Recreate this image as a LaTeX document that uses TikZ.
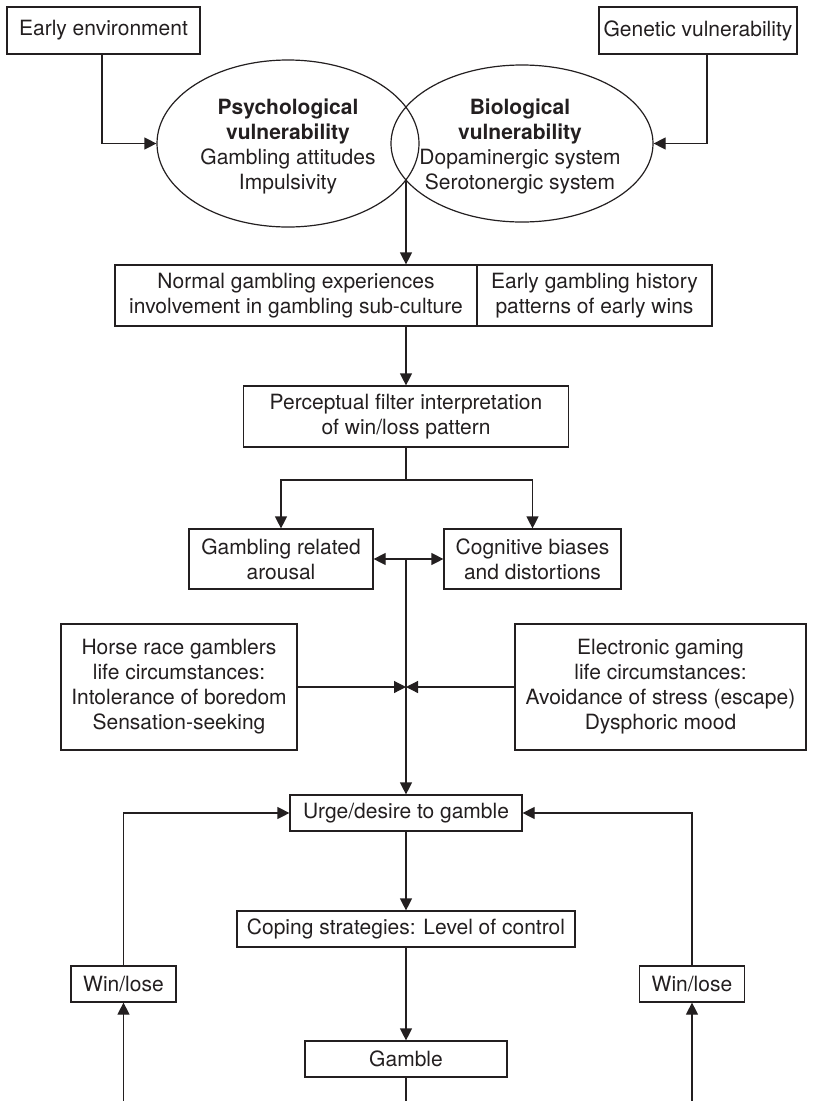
\documentclass[tikz,border=0pt]{standalone}
\usepackage{fontspec}
\setmainfont{TeX Gyre Heros}
\usetikzlibrary{arrows.meta,shapes.geometric,calc}
\definecolor{ink}{HTML}{231F20}
\begin{document}
\begin{tikzpicture}[x=1pt,y=-1pt,
  every node/.style={font=\fontsize{21}{25}\selectfont, text=ink},
  box/.style={draw=ink, line width=1.2pt, rectangle, inner sep=0pt, align=center},
  oval/.style={draw=ink, line width=1.2pt, ellipse, inner sep=0pt},
  conn/.style={draw=ink, line width=1.2pt},
  arr/.style={conn, -{Triangle[length=12pt,width=12pt]}},
  darr/.style={conn, {Triangle[length=12pt,width=12pt]}-{Triangle[length=12pt,width=12pt]}}
]
\useasboundingbox (0,0) rectangle (814,1101);

% top boxes
\node[box, minimum width=193pt, minimum height=47pt] (early) at (103.5,30.5) {Early environment};
\node[box, minimum width=198pt, minimum height=47pt] (gen) at (698,30.5) {Genetic vulnerability};

% ellipses
\node[oval, minimum width=262pt, minimum height=167pt] (psy) at (288,143.5) {};
\node[oval, minimum width=262pt, minimum height=157pt] (bio) at (522,143.5) {};
\node[align=center, inner sep=0pt] (psytext) at (288,146) {\textbf{Psychological}\\\textbf{vulnerability}\\Gambling attitudes\\Impulsivity};
\node[align=center, inner sep=0pt] (biotext) at (520,146) {\textbf{Biological}\\\textbf{vulnerability}\\Dopaminergic system\\Serotonergic system};
\coordinate (ix) at (406,180);

% second row
\node[box, minimum width=362pt, minimum height=61pt] (normal) at (296,295.5) {Normal gambling experiences\\involvement in gambling sub-culture};
\node[box, minimum width=235pt, minimum height=61pt] (hist) at (594.5,295.5) {Early gambling history\\patterns of early wins};

\node[box, minimum width=325pt, minimum height=61pt] (perc) at (406,416.5) {Perceptual filter interpretation\\of win/loss pattern};
\coordinate (split) at (406,480);

\node[box, minimum width=184pt, minimum height=60pt] (arousal) at (281,559) {Gambling related\\arousal};
\node[box, minimum width=177pt, minimum height=60pt] (cog) at (532.5,559) {Cognitive biases\\and distortions};

\node[box, minimum width=236pt, minimum height=126pt] (horse) at (179,687) {Horse race gamblers\\life circumstances:\\Intolerance of boredom\\Sensation-seeking};
\node[box, minimum width=291pt, minimum height=126pt] (elec) at (660.5,687) {Electronic gaming\\life circumstances:\\Avoidance of stress (escape)\\Dysphoric mood};

\node[box, minimum width=232pt, minimum height=36pt] (urge) at (406,813) {Urge/desire to gamble};
\node[box, minimum width=338pt, minimum height=36pt] (coping) at (406,929) {Coping strategies: Level of control};
\node[box, minimum width=202pt, minimum height=36pt] (gamble) at (406,1059) {Gamble};

\node[box, minimum width=105pt, minimum height=36pt] (wll) at (123.5,984) {Win/lose};
\node[box, minimum width=105pt, minimum height=36pt] (wlr) at (692,984) {Win/lose};

\coordinate (gbot) at (406,1101);
\coordinate (lbot) at (123.5,1101);
\coordinate (rbot) at (692,1101);

% connectors
\draw[arr] ([xshift=-1.5pt]early.south) |- (psy.west);
\draw[arr] ([xshift=9pt]gen.south) |- (bio.east);
\draw[arr] (ix) -- (ix |- normal.north);
\draw[arr] (perc.north |- normal.south) -- (perc.north);
\draw[conn] (perc.south) -- (split);
\draw[arr] (split) -| (arousal.north);
\draw[arr] (split) -| (cog.north);
\draw[darr] (arousal.east) -- (cog.west);
\draw[arr] (urge.north |- arousal.east) -- (urge.north);
\draw[arr] (horse.east) -- (horse.east -| urge.north);
\draw[arr] (elec.west) -- (elec.west -| urge.north);
\draw[arr] (urge.south) -- (coping.north);
\draw[arr] (coping.south) -- (gamble.north);
\draw[conn] (gamble.south) -- (gbot);
\draw[arr] (lbot) -- (wll.south);
\draw[arr] (rbot) -- (wlr.south);
\draw[arr] (wll.north) |- (urge.west);
\draw[arr] (wlr.north) |- (urge.east);
\end{tikzpicture}
\end{document}
